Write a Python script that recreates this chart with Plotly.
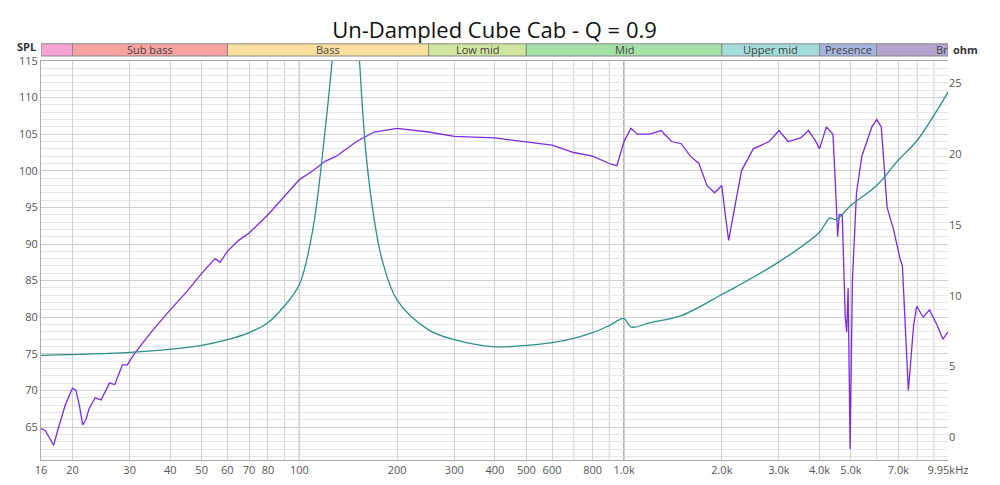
import math
import plotly.graph_objects as go

# SPL curve (Hz, dB)
spl_freq = [16, 16.5, 17, 17.5, 18, 19, 20, 20.5, 21, 21.5, 22, 22.5, 23.5, 24.5, 26, 27, 28.5, 29.5, 31, 33, 35,
            40, 45, 50, 55, 57, 60, 65, 70, 80, 90, 100, 110, 120, 130, 150, 170, 200, 250, 300, 400, 500,
            600, 700, 800, 900, 950, 1000, 1050, 1100, 1200, 1300, 1400, 1500, 1600, 1700, 1800, 1900, 2000,
            2050, 2100, 2150, 2300, 2500, 2800, 3000, 3200, 3500, 3700, 3900, 4000, 4200, 4400, 4500, 4550,
            4600, 4700, 4800, 4850, 4900, 4970, 5050, 5200, 5400, 5600, 5800, 6000, 6200, 6460, 6760, 7080,
            7200, 7510, 7800, 7970, 8340, 8720, 9190, 9600, 9950]
spl_db = [64.8, 64.5, 63.5, 62.5, 64.5, 68, 70.3, 70, 68, 65.3, 66, 67.5, 69, 68.7, 71, 70.8, 73.5, 73.5, 75, 76.5, 78,
          81, 83.5, 86, 88, 87.5, 89, 90.5, 91.5, 94, 96.5, 98.8, 100, 101.3, 102, 104, 105.3, 105.8, 105.3, 104.7, 104.5, 104,
          103.5, 102.5, 102, 101, 100.7, 104, 105.8, 105, 105, 105.5, 104, 103.7, 102, 101, 98, 97, 98,
          94, 90.5, 93, 100, 103, 104, 105.5, 104, 104.5, 105.5, 104, 103, 106, 105, 96, 91,
          94, 94, 80, 78, 84, 62, 85, 97, 102, 104, 106, 107, 106, 95, 92, 88,
          87, 70, 79, 81.5, 80, 81, 79, 77, 78]

# Impedance curve (Hz, ohm)
imp_freq = [16, 30, 50, 60, 70, 80, 90, 100, 110, 120, 130, 140, 150, 160, 170, 180, 200, 250, 300, 400, 500, 600,
            700, 800, 900, 1000, 1050, 1200, 1500, 2000, 2200, 3000, 4000, 4300, 4500, 5000, 6000, 7000, 8000, 9950]
imp_ohm = [5.8, 6.0, 6.5, 6.9, 7.4, 8.1, 9.3, 10.8, 14.7, 21.7, 30, 40, 30, 20.3, 15.4, 12.5, 9.7, 7.6, 6.9, 6.4, 6.5, 6.7,
           7.0, 7.4, 7.9, 8.4, 7.8, 8.1, 8.6, 10.1, 10.6, 12.4, 14.5, 15.5, 15.4, 16.4, 17.8, 19.6, 21, 24.4]

x_ticks = [16, 20, 30, 40, 50, 60, 70, 80, 100, 200, 300, 400, 500, 600, 800, 1000, 2000, 3000, 4000, 5000, 7000, 9950]
x_labels = ["16", "20", "30", "40", "50", "60", "70", "80", "100", "200", "300", "400", "500", "600", "800",
            "1.0k", "2.0k", "3.0k", "4.0k", "5.0k", "7.0k", "9.95kHz"]
extra_grid = [90, 700, 900, 6000, 8000, 9000]

bands = ["", "Sub bass", "Bass", "Low mid", "Mid", "Upper mid", "Presence", "Br"]
band_edges = [16, 20, 60, 250, 500, 2000, 4000, 6000, 9950]
band_colors = ["#f7a3d6", "#f8a3a0", "#fbdf9e", "#d0e69e", "#a4e2a8", "#a3dcd9", "#a4b5de", "#b4a4cf"]

fig = go.Figure()
fig.add_trace(go.Scatter(x=imp_freq, y=imp_ohm, mode="lines", line=dict(color="#2a9189", width=1.3),
                         line_shape="spline", yaxis="y2", showlegend=False))
fig.add_trace(go.Scatter(x=spl_freq, y=spl_db, mode="lines", line=dict(color="#7b2be3", width=1.3),
                         showlegend=False))

for f in extra_grid:
    fig.add_shape(type="line", xref="x", yref="paper", x0=f, x1=f, y0=0, y1=1,
                  line=dict(color="#d0d0d0", width=1), layer="below")
for f in [100, 1000]:
    fig.add_shape(type="line", xref="x", yref="paper", x0=f, x1=f, y0=0, y1=1,
                  line=dict(color="#777777", width=1.2), layer="below")

for i, name in enumerate(bands):
    fig.add_shape(type="rect", xref="x", yref="paper", x0=band_edges[i], x1=band_edges[i + 1],
                  y0=1.0125, y1=1.043, fillcolor=band_colors[i], line=dict(color="#888888", width=1))
    if name:
        xm = (math.log10(band_edges[i]) + math.log10(band_edges[i + 1])) / 2
        if name == "Br":
            xm = math.log10(9550)
        fig.add_annotation(x=xm, y=1.028, xref="x", yref="paper", text=name, showarrow=False,
                           font=dict(size=11, color="#444"), yanchor="middle")

fig.add_annotation(x=-0.003, y=1.036, xref="paper", yref="paper", text="<b>SPL</b>", showarrow=False,
                   xanchor="right", yanchor="middle", font=dict(size=11, color="#333"))
fig.add_annotation(x=1.003, y=1.03, xref="paper", yref="paper", text="<b>ohm</b>", showarrow=False,
                   xanchor="left", yanchor="middle", font=dict(size=11, color="#333"))

fig.update_layout(
    width=1000, height=485,
    title=dict(text="Un-Dampled Cube Cab - Q = 0.9", x=0.5, xref="paper", y=0.97, xanchor="center",
               font=dict(size=22, color="#111")),
    font=dict(family="Open Sans", size=11, color="#555"),
    plot_bgcolor="white", paper_bgcolor="white",
    margin=dict(l=33, r=60, t=53, b=33),
    xaxis=dict(type="log", range=[1.2041, 3.9978], tickvals=x_ticks, ticktext=x_labels,
               showgrid=True, gridcolor="#d0d0d0", zeroline=False, ticks="", automargin=False,
               showline=True, linecolor="#aaa", mirror=True),
    yaxis=dict(range=[60.5, 115], tickvals=[65, 70, 75, 80, 85, 90, 95, 100, 105, 110, 115],
               showgrid=True, gridcolor="#cfcfcf", zeroline=False, ticks="", automargin=False,
               minor=dict(dtick=1, showgrid=True, gridcolor="#e6e6e6"),
               showline=True, linecolor="#aaa"),
    yaxis2=dict(range=[-1.6, 26.6], overlaying="y", side="right", tickvals=[0, 5, 10, 15, 20, 25],
                showgrid=False, zeroline=False, ticks="", color="#444", automargin=False),
)

fig.write_html("out.html")
